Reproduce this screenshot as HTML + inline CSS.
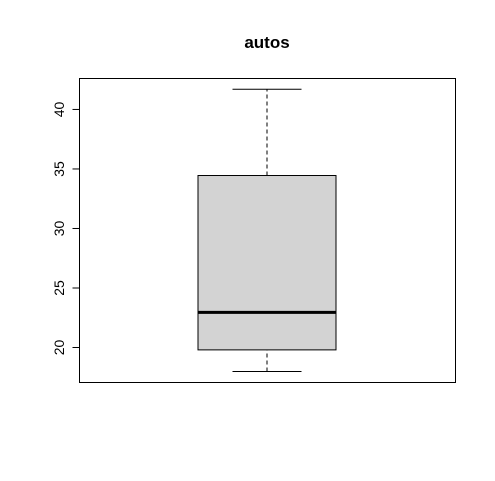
<!DOCTYPE html>
<html><head><meta charset="utf-8"><style>
html,body{margin:0;padding:0;background:#fff;}
svg{display:block;font-family:"Liberation Sans",Arial,sans-serif;}
</style></head><body>
<svg id="chart" width="495" height="481" viewBox="0 0 495 481" xmlns="http://www.w3.org/2000/svg">
<rect x="0" y="0" width="495" height="481" fill="#fff"/>
<text x="267" y="48" text-anchor="middle" font-size="17" font-weight="bold">autos</text>
<rect x="79.5" y="78.5" width="376" height="304" fill="none" stroke="#000" stroke-width="1"/>
<g id="yaxis"></g>
<g id="box"></g>
</svg>
<script>
const categories = ["autos"];
const stats = [17.98, 19.8, 22.95, 34.45, 41.7]; // min, q1, median, q3, max
const yTicks = [20, 25, 30, 35, 40];
const yMin = 17.06, yMax = 42.6;
const top_ = 78.5, bottom_ = 382.5;
function y(v){ return bottom_ - (v - yMin) / (yMax - yMin) * (bottom_ - top_); }
const NS = "http://www.w3.org/2000/svg";
function mk(tag, attrs, parent){ const e=document.createElementNS(NS,tag); for(const k in attrs) e.setAttribute(k, attrs[k]); parent.appendChild(e); return e; }
const ya = document.getElementById('yaxis');
mk('line',{x1:79.5,x2:79.5,y1:y(yTicks[0]),y2:y(yTicks[yTicks.length-1]),stroke:'#000'},ya);
yTicks.forEach(t=>{
  const l = mk('line',{x1:72.5,x2:79.5,y1:y(t),y2:y(t),stroke:'#000'},ya);
  
  
  const tx = mk('text',{x:0,y:0,'font-size':14,'text-anchor':'middle',transform:`translate(64,${y(t)}) rotate(-90)`},ya);
  tx.textContent = t;
  
  
});
const g = document.getElementById('box');
const cx = 267, hw = 69, cap = 34.5;
const [mn,q1,md,q3,mx] = stats;
const w1 = mk('line',{x1:cx,x2:cx,y1:y(q3),y2:y(mx),stroke:'#000','stroke-dasharray':'4,3'},g);


const w2 = mk('line',{x1:cx,x2:cx,y1:y(mn),y2:y(q1),stroke:'#000','stroke-dasharray':'4,3'},g);


const c1 = mk('line',{x1:cx-cap,x2:cx+cap,y1:y(mx),y2:y(mx),stroke:'#000'},g);


const c2 = mk('line',{x1:cx-cap,x2:cx+cap,y1:y(mn),y2:y(mn),stroke:'#000'},g);


const b = mk('rect',{x:cx-hw,y:y(q3),width:2*hw,height:y(q1)-y(q3),fill:'#d3d3d3',stroke:'#000'},g);


const m = mk('line',{x1:cx-hw,x2:cx+hw,y1:y(md),y2:y(md),stroke:'#000','stroke-width':3},g);


</script>
</body></html>
